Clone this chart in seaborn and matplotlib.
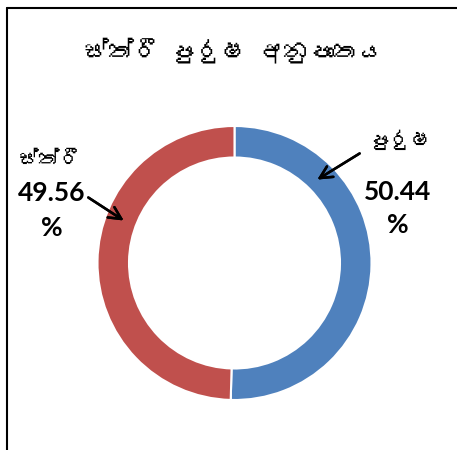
import matplotlib
matplotlib.use("Agg")
import matplotlib.pyplot as plt
import seaborn as sns
from matplotlib import font_manager
from matplotlib.ft2font import FT2Font
from matplotlib.lines import Line2D

# Data (no zero-width joiner: matplotlib does not shape Sinhala, it would show as a box)
labels = ["පුරුෂ", "ස්ත්රී"]
values = [50.44, 49.56]
colors = ["#4F81BD", "#C0504D"]
title = "ස්ත්රී පුරුෂ අනුපාතය"

sns.set_theme(style="white")

# look for any installed family that has Sinhala glyphs
sinhala = []
for f in font_manager.fontManager.ttflist:
    try:
        cmap = FT2Font(f.fname).get_charmap()
    except Exception:
        continue
    if 0x0DC3 in cmap and 0x0DD4 in cmap and f.name not in sinhala:
        sinhala.append(f.name)

plt.rcParams["font.family"] = ["Lato"] + sinhala + ["DejaVu Sans"]
si_family = sinhala + ["DejaVu Sans"]

W, H = 457, 450
fig = plt.figure(figsize=(W / 100, H / 100), dpi=100)
fig.patch.set_facecolor("white")


def fx(x):
    return x / W


def fy(y):
    return 1 - y / H


# donut: centre (234.5, 263) px, outer radius 137 px
cx, cy, r = 234.5, 263, 137
ax = fig.add_axes([fx(cx - r), fy(cy + r), 2 * r / W, 2 * r / H])
ax.pie(values, colors=colors, startangle=90, counterclock=False,
       wedgeprops=dict(width=0.23, edgecolor="white", linewidth=1.5))
ax.set_xlim(-1, 1)
ax.set_ylim(-1, 1)
ax.set_aspect("equal")
ax.axis("off")

# chart frame (left and top edges)
fig.add_artist(Line2D([fx(6.5), fx(6.5)], [fy(8), 0], color="black", lw=1.5,
                      transform=fig.transFigure))
fig.add_artist(Line2D([fx(6.5), 1], [fy(8), fy(8)], color="black", lw=1.5,
                      transform=fig.transFigure))

fig.text(fx(234), fy(50), title, ha="center", va="center", family=si_family,
         fontsize=18, fontweight="bold", color="black")

# data labels
pct = [f"{v:.2f}" for v in values]
fig.text(fx(400), fy(140), labels[0], ha="center", va="center", family=si_family,
         fontsize=15, color="black")
fig.text(fx(398), fy(192), pct[0], ha="center", va="center", fontsize=19,
         fontweight="bold", color="black")
fig.text(fx(398), fy(225), "%", ha="center", va="center", fontsize=19,
         fontweight="bold", color="black")

fig.text(fx(50), fy(160), labels[1], ha="center", va="center", family=si_family,
         fontsize=15, color="black")
fig.text(fx(52), fy(193), pct[1], ha="center", va="center", fontsize=19,
         fontweight="bold", color="black")
fig.text(fx(52), fy(228), "%", ha="center", va="center", fontsize=19,
         fontweight="bold", color="black")

# leader arrows
arrow = dict(arrowstyle="->", color="black", lw=1.8, mutation_scale=22)
fig.add_artist(plt.annotate("", xy=(fx(315), fy(181)), xytext=(fx(362), fy(152)),
                            xycoords="figure fraction", arrowprops=arrow))
fig.add_artist(plt.annotate("", xy=(fx(126), fy(222)), xytext=(fx(86), fy(196)),
                            xycoords="figure fraction", arrowprops=arrow))

fig.savefig("out.png", dpi=100, facecolor="white")
